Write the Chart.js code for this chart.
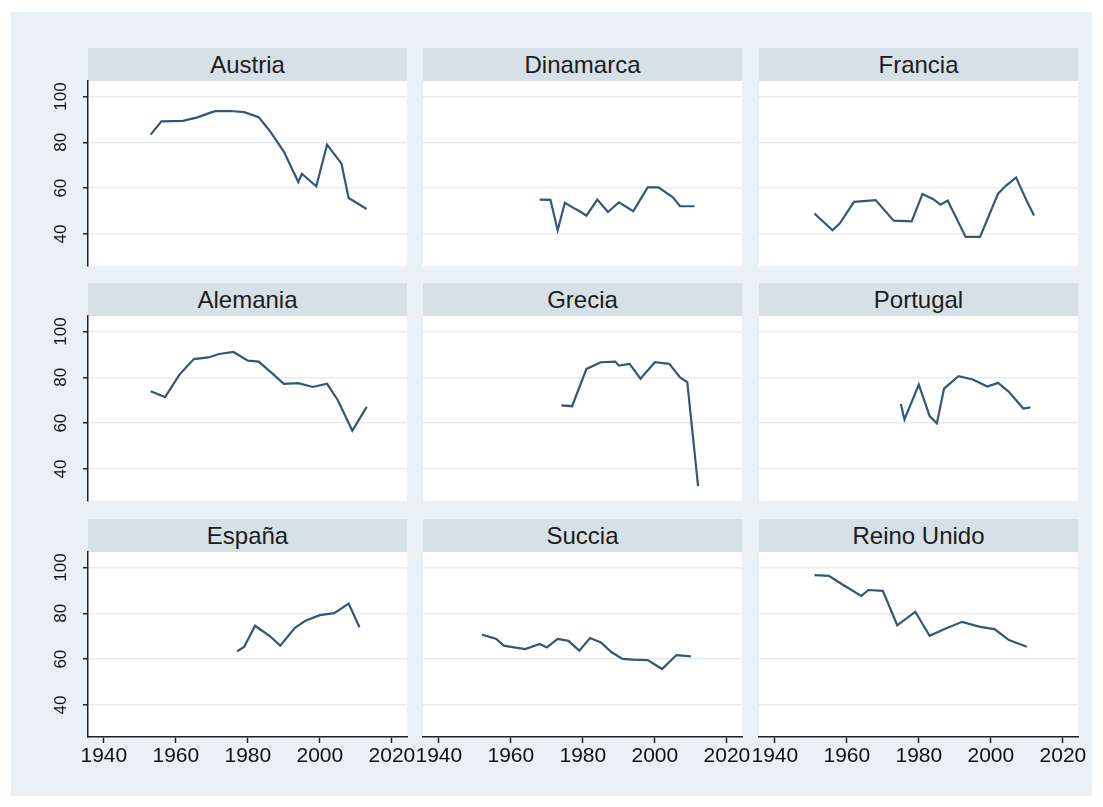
<!DOCTYPE html>
<html>
<head>
<meta charset="utf-8">
<script src="https://cdn.jsdelivr.net/npm/chart.js@4.4.0/dist/chart.umd.min.js"></script>
<style>
  body { margin: 0; background: #fff; width: 1103px; height: 807px; overflow: hidden; font-family: "Liberation Sans", Arial, sans-serif; }
  #bg { position: absolute; left: 11px; top: 12px; width: 1081px; height: 784px; background: #eaf1f4; }
  .strip { position: absolute; height: 33px; line-height: 33px; width: 319px; background: #d6e0e7; text-align: center; font-size: 24px; color: #1c1c1c; }
  canvas { position: absolute; left: 0; top: 0; }
</style>
</head>
<body>
<div id="bg"></div>
<script>
const countries = ['Austria', 'Dinamarca', 'Francia', 'Alemania', 'Grecia', 'Portugal', 'España', 'Succia', 'Reino Unido'];

const austriaYears = [1953, 1956, 1959, 1962, 1966, 1970, 1971, 1975, 1979, 1983, 1986, 1990, 1994, 1995, 1999, 2002, 2006, 2008, 2013];
const austriaValues = [83.4, 89.2, 89.3, 89.4, 90.9, 93.2, 93.6, 93.7, 93.2, 91, 85.2, 76, 62.7, 66.3, 60.8, 79, 70.7, 55.7, 50.9];

const dinamarcaYears = [1968, 1971, 1973, 1975, 1977, 1979, 1981, 1984, 1987, 1988, 1990, 1994, 1998, 2001, 2005, 2007, 2011];
const dinamarcaValues = [55, 54.9, 41.6, 53.6, 51.7, 50, 48, 55, 49.6, 51, 53.8, 49.9, 60.3, 60.3, 56, 52.1, 52.1];

const franciaYears = [1951, 1956, 1958, 1962, 1968, 1973, 1978, 1981, 1984, 1986, 1988, 1993, 1997, 2002, 2004, 2007, 2010, 2012];
const franciaValues = [48.9, 41.6, 44.5, 54, 54.8, 45.8, 45.5, 57.4, 55.2, 52.8, 54.6, 38.7, 38.7, 57.6, 60.8, 64.7, 54.3, 48.1];

const alemaniaYears = [1953, 1957, 1961, 1965, 1969, 1972, 1976, 1980, 1983, 1987, 1990, 1994, 1998, 2002, 2005, 2009, 2013];
const alemaniaValues = [73.9, 71.4, 81.2, 88, 88.7, 90.2, 91.1, 87.3, 86.9, 81.4, 77.2, 77.5, 75.8, 77.2, 70, 56.7, 67.1];

const greciaYears = [1974, 1977, 1981, 1985, 1989, 1990, 1993, 1996, 2000, 2004, 2007, 2009, 2012];
const greciaValues = [67.8, 67.4, 83.7, 86.6, 86.9, 85.1, 85.9, 79.4, 86.6, 85.9, 80, 77.9, 32.5];

const portugalYears = [1975, 1976, 1980, 1983, 1985, 1987, 1991, 1995, 1999, 2002, 2005, 2009, 2011];
const portugalValues = [68.4, 61.6, 76.8, 63.1, 59.9, 75.1, 80.5, 79.1, 76, 77.6, 73.7, 66.4, 66.9];

const espanaYears = [1977, 1979, 1982, 1986, 1989, 1993, 1996, 2000, 2004, 2008, 2011];
const espanaValues = [63.4, 65.4, 74.6, 70.2, 65.9, 73.6, 76.8, 79.2, 80.1, 84.3, 73.9];

const sueciaYears = [1952, 1956, 1958, 1960, 1964, 1968, 1970, 1973, 1976, 1979, 1982, 1985, 1988, 1991, 1994, 1998, 2002, 2006, 2010];
const sueciaValues = [70.7, 68.8, 65.9, 65.4, 64.4, 66.6, 65.1, 68.8, 68, 63.7, 69.2, 67.3, 63, 60.1, 59.8, 59.6, 55.7, 61.8, 61.2];

const reinoUnidoYears = [1951, 1955, 1959, 1964, 1966, 1970, 1974, 1979, 1983, 1987, 1992, 1997, 2001, 2005, 2010];
const reinoUnidoValues = [96.7, 96.4, 92.4, 87.6, 90.2, 89.8, 74.8, 80.7, 70.2, 73.1, 76.3, 74.1, 73.1, 68.3, 65.4];

const xTickLabels = [1940, 1960, 1980, 2000, 2020];
const yTickLabels = [40, 60, 80, 100];

const seriesYears = [austriaYears, dinamarcaYears, franciaYears, alemaniaYears, greciaYears, portugalYears, espanaYears, sueciaYears, reinoUnidoYears];
const seriesValues = [austriaValues, dinamarcaValues, franciaValues, alemaniaValues, greciaValues, portugalValues, espanaValues, sueciaValues, reinoUnidoValues];

// page geometry
const PAGE_W = 1103, PAGE_H = 807;
const colLeft = [88, 423, 759];
const rowTop = [48, 283, 519];
const STRIP_H = 33, PLOT_W = 319, PLOT_H = 185;
const Y_AXIS_W = 40, X_AXIS_H = 45;
const X_MIN = 1935.6, X_MAX = 2024.2;
const Y_MIN = 26, Y_MAX = 106.8;
const FONT = '"Liberation Sans", Arial, sans-serif';

const plotBg = {
  id: 'plotBg',
  beforeDraw(chart) {
    const a = chart.chartArea;
    const ctx = chart.ctx;
    ctx.save();
    ctx.fillStyle = '#ffffff';
    ctx.fillRect(a.left, a.top, a.right - a.left, a.bottom - a.top);
    ctx.restore();
  }
};

function makePanel(i) {
  const col = i % 3;
  const row = Math.floor(i / 3);
  const left = colLeft[col];
  const top = rowTop[row] + STRIP_H;
  const firstCol = col === 0;
  const lastRow = row === 2;

  const strip = document.createElement('div');
  strip.className = 'strip';
  strip.style.left = left + 'px';
  strip.style.top = rowTop[row] + 'px';
  strip.textContent = countries[i];
  document.body.appendChild(strip);

  const canvas = document.createElement('canvas');
  canvas.width = PAGE_W;
  canvas.height = PAGE_H;
  document.body.appendChild(canvas);

  const points = seriesYears[i].map((yr, k) => ({ x: yr, y: seriesValues[i][k] }));

  new Chart(canvas, {
    type: 'line',
    data: {
      datasets: [{
        data: points,
        borderColor: '#34567a',
        borderWidth: 2.2,
        pointRadius: 0,
        tension: 0
      }]
    },
    options: {
      responsive: false,
      animation: false,
      events: [],
      layout: {
        padding: {
          left: firstCol ? left - Y_AXIS_W : left,
          top: top,
          right: PAGE_W - left - PLOT_W,
          bottom: PAGE_H - top - PLOT_H - (lastRow ? X_AXIS_H : 0)
        }
      },
      plugins: { legend: { display: false }, tooltip: { enabled: false } },
      scales: {
        x: {
          type: 'linear',
          min: X_MIN,
          max: X_MAX,
          display: lastRow,
          afterBuildTicks: s => { s.ticks = xTickLabels.map(v => ({ value: v })); },
          afterFit: s => { s.height = lastRow ? X_AXIS_H : 0; s.paddingLeft = 0; s.paddingRight = 0; },
          grid: { drawOnChartArea: false, tickLength: 6, tickColor: '#222', tickWidth: 1.5 },
          border: { color: '#222', width: 1.5 },
          ticks: { autoSkip: false, maxRotation: 0, padding: 1, color: '#111', font: { family: FONT, size: 21 }, callback: v => String(v) }
        },
        y: {
          type: 'linear',
          min: Y_MIN,
          max: Y_MAX,
          afterBuildTicks: s => { s.ticks = yTickLabels.map(v => ({ value: v })); },
          afterFit: s => { s.width = firstCol ? Y_AXIS_W : 0; s.paddingTop = 0; s.paddingBottom = 0; },
          grid: { color: '#e6edf0', lineWidth: 1.5, drawTicks: firstCol, tickLength: 5, tickColor: '#222', tickWidth: 1.5 },
          border: { display: firstCol, color: '#222', width: 1.5 },
          ticks: { display: firstCol, minRotation: 90, maxRotation: 90, crossAlign: 'center', padding: 8, color: '#111', font: { family: FONT, size: 17 }, callback: v => String(v) }
        }
      }
    },
    plugins: [plotBg]
  });
}

for (let i = 0; i < countries.length; i++) {
  makePanel(i);
}
</script>
</body>
</html>
